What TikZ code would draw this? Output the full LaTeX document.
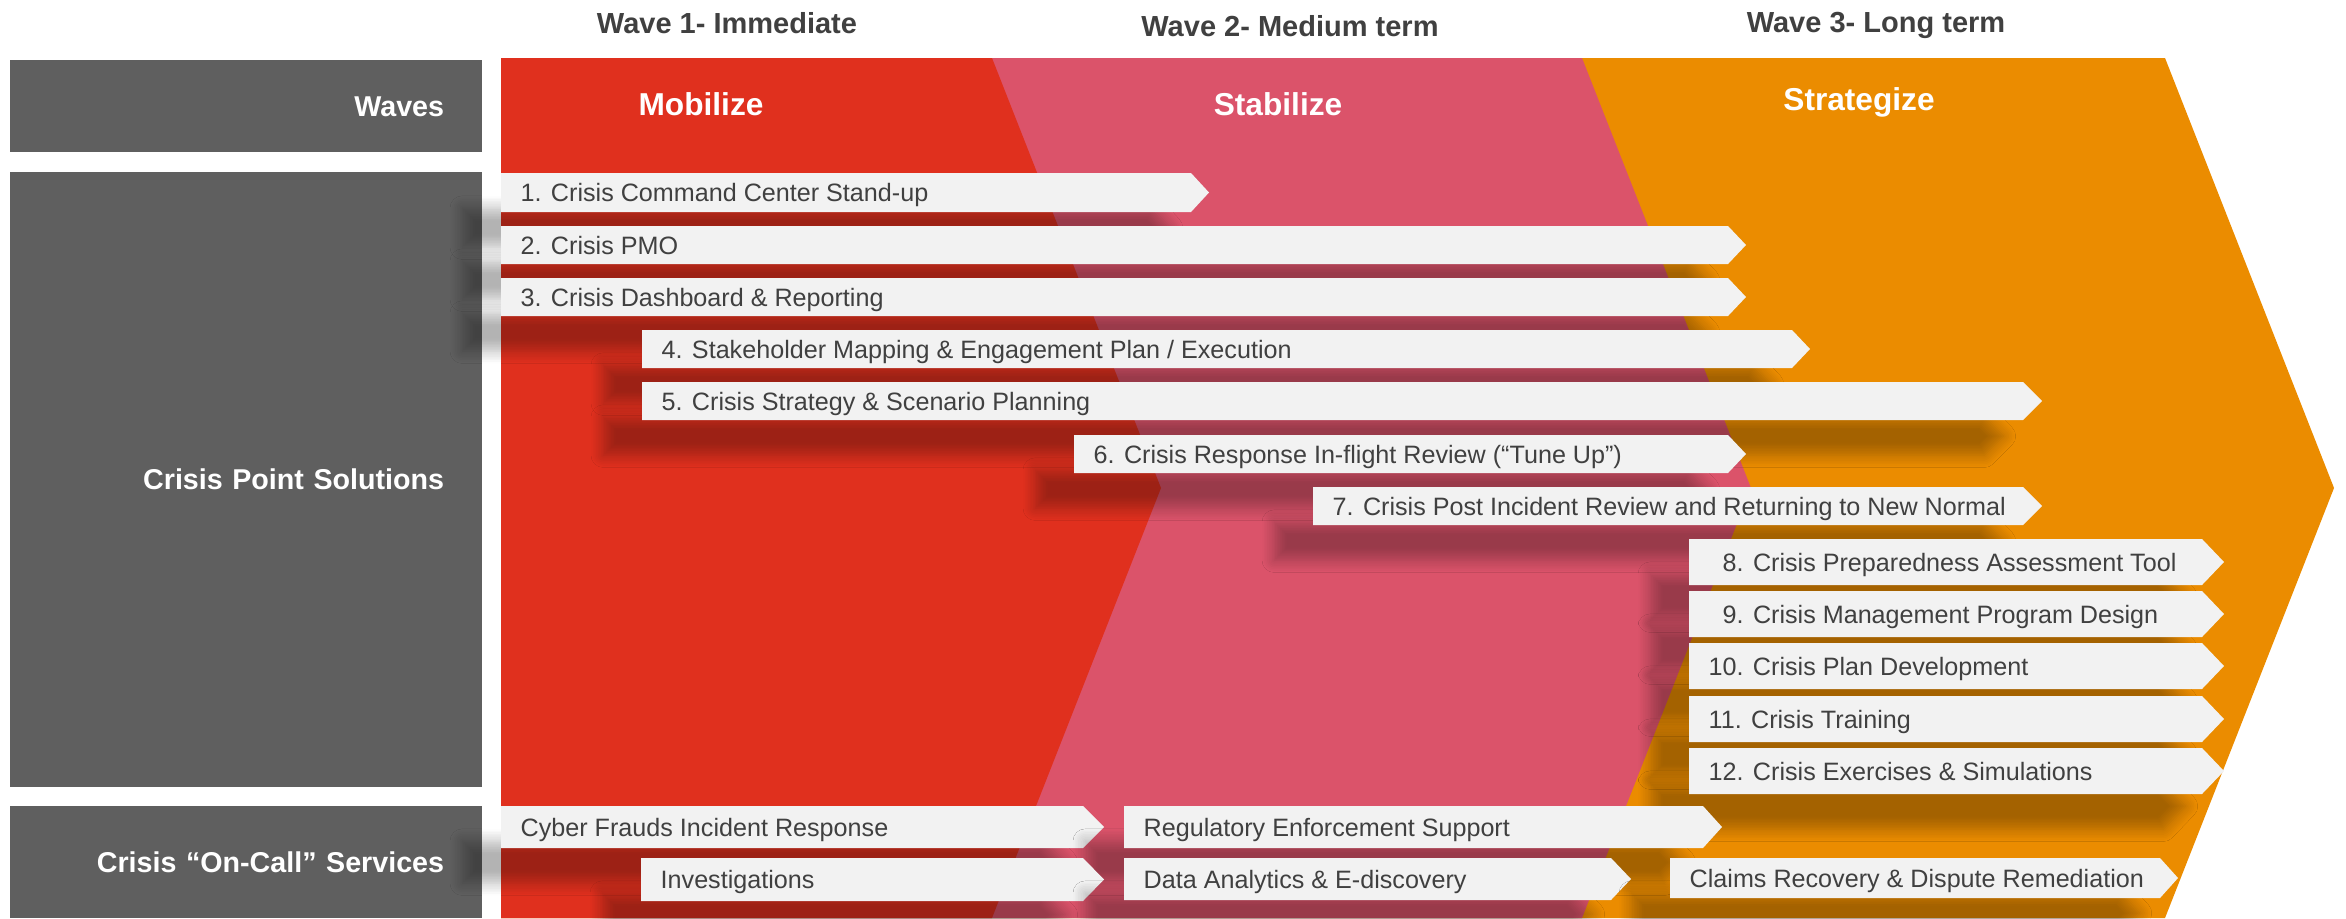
\documentclass[tikz,border=0pt]{standalone}
\usepackage{fontspec}
\setmainfont{Liberation Sans}
\usetikzlibrary{shadows.blur}
\definecolor{wavered}{HTML}{E0301E}
\definecolor{wavepink}{HTML}{DB536A}
\definecolor{waveorange}{HTML}{EB8C00}
\definecolor{boxgrey}{HTML}{5F5F5F}
\definecolor{bargrey}{HTML}{F2F2F2}
\definecolor{textgrey}{HTML}{404040}

\begin{document}
\begin{tikzpicture}[x=0.01cm,y=-0.01cm,
    side box/.style={rectangle,fill=boxgrey,text=white,
      font=\fontsize{8.15}{10}\selectfont\bfseries,minimum width=4.72cm,
      text width=3.96cm,inner xsep=0.38cm,inner ysep=0pt,align=right,
      text height=5.85pt,text depth=0pt},
    wave head/.style={text=textgrey,font=\fontsize{8.25}{10}\selectfont\bfseries,
      inner sep=0pt,text height=5.9pt,text depth=0pt},
    wave name/.style={text=white,font=\fontsize{9}{11}\selectfont\bfseries,
      inner sep=0pt,text height=6.45pt,text depth=0pt},
    bar shape/.style={fill=bargrey,blur shadow={shadow xshift=-11pt,
      shadow yshift=-10pt,shadow blur radius=3.5pt,shadow blur steps=8,
      shadow opacity=30}},
    bar text/.style={anchor=west,text=textgrey,font=\fontsize{7.15}{8.6}\selectfont,
      inner xsep=0.19cm,inner ysep=0pt,text height=5.15pt,text depth=0pt},]

    \useasboundingbox (0,0) rectangle (2346,918);

    % row labels
    \node[side box,minimum height=0.92cm] (Waves) at (246,106) {Waves};
    \node[side box,minimum height=6.15cm] (PointSol) at (246,479.5) {Crisis Point Solutions};
    \node[side box,minimum height=1.12cm] (OnCall) at (246,862) {Crisis “On-Call” Services};

    % the three waves, back to front
    \fill[waveorange] (501,58) -- (2165,58) -- (2334,488) -- (2165,918) -- (501,918) -- cycle;
    \fill[wavepink] (501,58) -- (1582,58) -- (1751,488) -- (1582,918) -- (501,918) -- cycle;
    \fill[wavered] (501,58) -- (992,58) -- (1161,488) -- (992,918) -- (501,918) -- cycle;

    \node[wave head] (Head1) at (727,23.5) {Wave 1- Immediate};
    \node[wave head] (Head2) at (1290,26.5) {Wave 2- Medium term};
    \node[wave head] (Head3) at (1876,22.5) {Wave 3- Long term};

    \node[wave name] (Mobilize) at (701,104.5) {Mobilize};
    \node[wave name] (Stabilize) at (1278,104) {Stabilize};
    \node[wave name] (Strategize) at (1859,99) {Strategize};

    % point solutions
    \fill[bar shape] (501,173) -- (1191,173) -- (1209,192.5) -- (1191,212) -- (501,212) -- cycle;
    \node[bar text] (Sol1) at (501,192.5) {1. Crisis Command Center Stand-up};
    \fill[bar shape] (501,226) -- (1728,226) -- (1746,245) -- (1728,264) -- (501,264) -- cycle;
    \node[bar text] (Sol2) at (501,245) {2. Crisis PMO};
    \fill[bar shape] (501,278) -- (1728,278) -- (1746,297) -- (1728,316) -- (501,316) -- cycle;
    \node[bar text] (Sol3) at (501,297) {3. Crisis Dashboard \& Reporting};
    \fill[bar shape] (642,330) -- (1792,330) -- (1810,349) -- (1792,368) -- (642,368) -- cycle;
    \node[bar text] (Sol4) at (642,349) {4. Stakeholder Mapping \& Engagement Plan / Execution};
    \fill[bar shape] (642,382) -- (2023,382) -- (2042,401) -- (2023,420) -- (642,420) -- cycle;
    \node[bar text] (Sol5) at (642,401) {5. Crisis Strategy \& Scenario Planning};
    \fill[bar shape] (1074,435) -- (1728,435) -- (1746,454) -- (1728,473) -- (1074,473) -- cycle;
    \node[bar text] (Sol6) at (1074,454) {6. Crisis Response In-flight Review (“Tune Up”)};
    \fill[bar shape] (1313,487) -- (2023,487) -- (2042,506) -- (2023,525) -- (1313,525) -- cycle;
    \node[bar text] (Sol7) at (1313,506) {7. Crisis Post Incident Review and Returning to New Normal};
    \fill[bar shape] (1689,539) -- (2202,539) -- (2224,562) -- (2202,585) -- (1689,585) -- cycle;
    \node[bar text] (Sol8) at (1689,562) {\phantom{1}8. Crisis Preparedness Assessment Tool};
    \fill[bar shape] (1689,591) -- (2202,591) -- (2224,614) -- (2202,637) -- (1689,637) -- cycle;
    \node[bar text] (Sol9) at (1689,614) {\phantom{1}9. Crisis Management Program Design};
    \fill[bar shape] (1689,643) -- (2202,643) -- (2224,666) -- (2202,689) -- (1689,689) -- cycle;
    \node[bar text] (Sol10) at (1689,666) {10. Crisis Plan Development};
    \fill[bar shape] (1689,696) -- (2202,696) -- (2224,719) -- (2202,742) -- (1689,742) -- cycle;
    \node[bar text] (Sol11) at (1689,719) {11. Crisis Training};
    \fill[bar shape] (1689,748) -- (2202,748) -- (2224,771) -- (2202,794) -- (1689,794) -- cycle;
    \node[bar text] (Sol12) at (1689,771) {12. Crisis Exercises \& Simulations};

    % on-call services
    \fill[bar shape] (501,806) -- (1083,806) -- (1104,827) -- (1083,848) -- (501,848) -- cycle;
    \node[bar text] (Cyber) at (501,827) {Cyber Frauds Incident Response};
    \fill[bar shape] (1124,806) -- (1703,806) -- (1722,827) -- (1703,848) -- (1124,848) -- cycle;
    \node[bar text] (Regulatory) at (1124,827) {Regulatory Enforcement Support};
    \fill[bar shape] (641,858) -- (1083,858) -- (1104,879.5) -- (1083,901) -- (641,901) -- cycle;
    \node[bar text] (Investig) at (641,879.5) {Investigations};
    \fill[bar shape] (1124,858) -- (1611,858) -- (1631,879) -- (1611,900) -- (1124,900) -- cycle;
    \node[bar text] (DataAn) at (1124,879) {Data Analytics \& E-discovery};
    \fill[bar shape] (1670,858) -- (2160,858) -- (2178,878) -- (2160,898) -- (1670,898) -- cycle;
    \node[bar text] (Claims) at (1670,878) {Claims Recovery \& Dispute Remediation};
\end{tikzpicture}
\end{document}
